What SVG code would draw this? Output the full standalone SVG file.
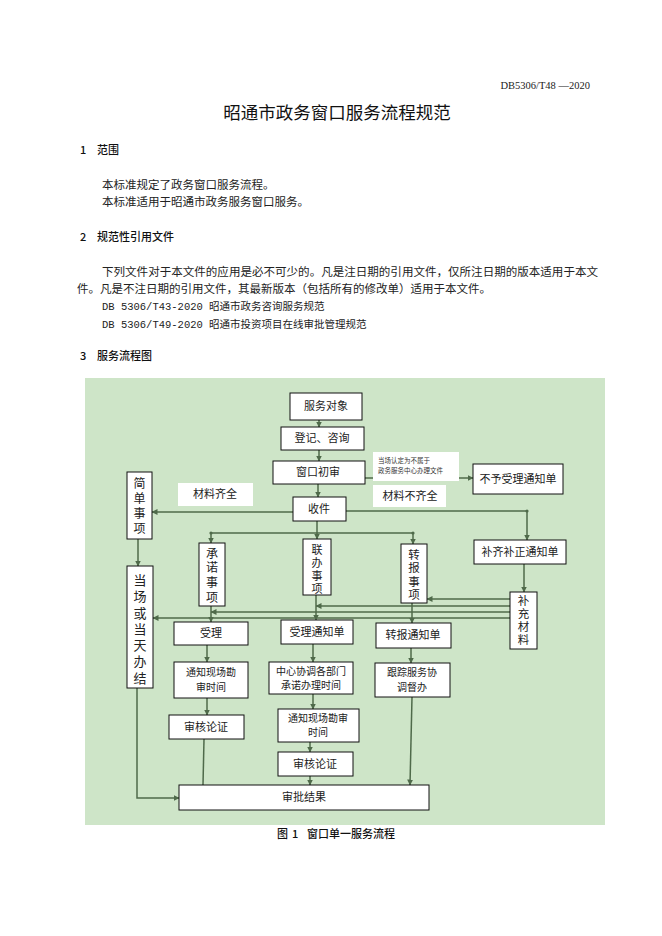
<svg xmlns="http://www.w3.org/2000/svg" width="662" height="936" viewBox="0 0 662 936">
<defs>
<style>
.bg{fill:#cee5c8}
.box{fill:#fff;stroke:#111;stroke-width:1}
.lbl{fill:#fff}
.t{font-family:"Noto Sans CJK SC",sans-serif;font-size:11px;fill:#222;text-anchor:middle}
.t2{font-family:"Noto Sans CJK SC",sans-serif;font-size:10px;fill:#222;text-anchor:middle}
.s{font-family:"Noto Sans CJK SC",sans-serif;font-size:6.5px;fill:#333}
.v{font-family:"Noto Sans CJK SC",sans-serif;fill:#222;writing-mode:vertical-rl;text-orientation:upright}
.c{stroke:#4f6a4a;stroke-width:1.5;fill:none}
.h{font-family:"Noto Sans CJK SC",sans-serif;font-size:11px;font-weight:500;fill:#111}
.b{font-family:"Liberation Serif","Noto Sans CJK SC",serif;font-size:11.5px;fill:#222}
.m{font-family:"Liberation Mono","Noto Sans CJK SC",monospace;font-size:10.5px;fill:#222}
</style>
<marker id="ar" markerUnits="userSpaceOnUse" markerWidth="6" markerHeight="6" refX="5.5" refY="3" orient="auto"><path d="M0,0 L6,3 L0,6 z" fill="#4f6a4a"/></marker>
</defs>
<rect width="662" height="936" fill="#fff"/>
<g id="page-text">
<text x="590" y="89" text-anchor="end" font-family="Liberation Serif" font-size="10.5" fill="#222">DB5306/T48 —2020</text>
<text x="337" y="119" text-anchor="middle" font-family="Noto Sans CJK SC,sans-serif" font-size="17.5" fill="#111">昭通市政务窗口服务流程规范</text>
<text class="h" x="80" y="154">1</text><text class="h" x="97" y="154">范围</text>
<text class="b" x="102" y="189">本标准规定了政务窗口服务流程。</text>
<text class="b" x="102" y="206">本标准适用于昭通市政务服务窗口服务。</text>
<text class="h" x="80" y="241">2</text><text class="h" x="97" y="241">规范性引用文件</text>
<text class="b" x="102" y="276" textLength="496" lengthAdjust="spacingAndGlyphs">下列文件对于本文件的应用是必不可少的。凡是注日期的引用文件，仅所注日期的版本适用于本文</text>
<text class="b" x="77" y="293">件。凡是不注日期的引用文件，其最新版本（包括所有的修改单）适用于本文件。</text>
<text class="m" x="102" y="310">DB 5306/T43-2020 昭通市政务咨询服务规范</text>
<text class="m" x="102" y="328">DB 5306/T49-2020 昭通市投资项目在线审批管理规范</text>
<text class="h" x="80" y="360">3</text><text class="h" x="97" y="360">服务流程图</text>
<text class="h" x="277" y="838">图</text><text class="h" x="292" y="838">1</text><text class="h" x="307" y="838">窗口单一服务流程</text>
</g>
<rect class="bg" x="85" y="378" width="520" height="447"/>
<g id="connectors">
<path class="c" d="M319,420 V427" marker-end="url(#ar)"/>
<path class="c" d="M319,450 V461" marker-end="url(#ar)"/>
<path class="c" d="M318,484 V497" marker-end="url(#ar)"/>
<path class="c" d="M365,478 H473" marker-end="url(#ar)"/>
<path class="c" d="M293,512 H152" marker-end="url(#ar)"/>
<path class="c" d="M346,511 H527 V540" marker-end="url(#ar)"/>
<path class="c" d="M524,564 V592" marker-end="url(#ar)"/>
<path class="c" d="M317,521 V533 M211,533 H413"/>
<path class="c" d="M211,533 V543" marker-end="url(#ar)"/>
<path class="c" d="M413,533 V544" marker-end="url(#ar)"/>
<path class="c" d="M317,533 V539" marker-end="url(#ar)"/>
<circle cx="211" cy="533" r="1.6" fill="#4f6a4a"/>
<circle cx="413" cy="533" r="1.6" fill="#4f6a4a"/>
<circle cx="527" cy="511" r="1.6" fill="#4f6a4a"/>
<path class="c" d="M138,539 V566" marker-end="url(#ar)"/>
<path class="c" d="M510,599 H427" marker-end="url(#ar)"/>
<path class="c" d="M510,606 H316" marker-end="url(#ar)"/>
<path class="c" d="M510,612 H211" marker-end="url(#ar)"/>
<path class="c" d="M510,618 H153" marker-end="url(#ar)"/>
<path class="c" d="M211,606 V622" marker-end="url(#ar)"/>
<path class="c" d="M316,595 V620" marker-end="url(#ar)"/>
<path class="c" d="M412,603 V623" marker-end="url(#ar)"/>
<path class="c" d="M207,645 V662" marker-end="url(#ar)"/>
<path class="c" d="M207,698 V715" marker-end="url(#ar)"/>
<path class="c" d="M204,739 L203,785"/>
<path class="c" d="M313,644 V662" marker-end="url(#ar)"/>
<path class="c" d="M313,694 V709" marker-end="url(#ar)"/>
<path class="c" d="M310,742 V752" marker-end="url(#ar)"/>
<path class="c" d="M310,776 V785" marker-end="url(#ar)"/>
<path class="c" d="M411,648 V663" marker-end="url(#ar)"/>
<path class="c" d="M412,697 L410,785" marker-end="url(#ar)"/>
<path class="c" d="M137,688 V798 H179" marker-end="url(#ar)"/>
</g>
<g id="labels">
<g id="lbl-notbelong"><rect class="lbl" x="373" y="452" width="86" height="29"/><text class="s" x="378" y="463">当场认定为不属于</text><text class="s" x="378" y="473">政务服务中心办理文件</text></g>
<g id="lbl-complete"><rect class="lbl" x="178" y="483" width="75" height="23"/><text class="t" x="215" y="498">材料齐全</text></g>
<g id="lbl-incomplete"><rect class="lbl" x="373" y="485" width="73" height="22"/><text class="t" x="410" y="500">材料不齐全</text></g>
</g>
<g id="n-fuwuduixiang"><rect class="box" x="290" y="393" width="72" height="27"/><text class="t" x="326" y="410">服务对象</text></g>
<g id="n-dengji"><rect class="box" x="281" y="427" width="83" height="23"/><text class="t" x="322" y="442">登记、咨询</text></g>
<g id="n-chushen"><rect class="box" x="273" y="461" width="92" height="23"/><text class="t" x="318" y="476">窗口初审</text></g>
<g id="n-buyu"><rect class="box" x="473" y="464" width="90" height="30"/><text class="t" x="518" y="483">不予受理通知单</text></g>
<g id="n-shoujian"><rect class="box" x="293" y="497" width="53" height="24"/><text class="t" x="319" y="513">收件</text></g>
<g id="n-jiandan"><rect class="box" x="127" y="472" width="25" height="67"/><text class="v" x="139.5" y="477" font-size="12" letter-spacing="3">简单事项</text></g>
<g id="n-buqi"><rect class="box" x="474" y="540" width="92" height="24"/><text class="t" x="520" y="556">补齐补正通知单</text></g>
<g id="n-chengnuo"><rect class="box" x="199" y="543" width="26" height="63"/><text class="v" x="212" y="547" font-size="12" letter-spacing="2.7">承诺事项</text></g>
<g id="n-lianban"><rect class="box" x="303" y="539" width="28" height="56"/><text class="v" x="317" y="544" font-size="11" letter-spacing="2">联办事项</text></g>
<g id="n-zhuanbao"><rect class="box" x="401" y="544" width="26" height="59"/><text class="v" x="414" y="549" font-size="11.5" letter-spacing="1.8">转报事项</text></g>
<g id="n-buchong"><rect class="box" x="510" y="592" width="27" height="57"/><text class="v" x="523.5" y="594.5" font-size="11.5" letter-spacing="1.5">补充材料</text></g>
<g id="n-dangchang"><rect class="box" x="127" y="566" width="26" height="122"/><text class="v" x="140" y="573.5" font-size="13" letter-spacing="3.3">当场或当天办结</text></g>
<g id="n-shouli"><rect class="box" x="174" y="622" width="74" height="23"/><text class="t" x="211" y="637">受理</text></g>
<g id="n-shoulitz"><rect class="box" x="281" y="620" width="72" height="24"/><text class="t" x="317" y="636">受理通知单</text></g>
<g id="n-zhuanbaotz"><rect class="box" x="376" y="623" width="75" height="25"/><text class="t" x="413" y="639">转报通知单</text></g>
<g id="n-tongzhi1"><rect class="box" x="174" y="662" width="74" height="36"/><text class="t2"><tspan x="211" y="676">通知现场勘</tspan><tspan x="211" y="690.5">审时间</tspan></text></g>
<g id="n-zhongxin"><rect class="box" x="269" y="662" width="84" height="32"/><text class="t2"><tspan x="311" y="674.5">中心协调各部门</tspan><tspan x="311" y="689">承诺办理时间</tspan></text></g>
<g id="n-genzong"><rect class="box" x="375" y="663" width="75" height="34"/><text class="t2"><tspan x="412" y="676">跟踪服务协</tspan><tspan x="412" y="690.5">调督办</tspan></text></g>
<g id="n-tongzhi2"><rect class="box" x="278" y="709" width="81" height="33"/><text class="t2"><tspan x="318" y="721.5">通知现场勘审</tspan><tspan x="318" y="736">时间</tspan></text></g>
<g id="n-shenhe1"><rect class="box" x="169" y="715" width="75" height="24"/><text class="t" x="206" y="731">审核论证</text></g>
<g id="n-shenhe2"><rect class="box" x="278" y="752" width="75" height="24"/><text class="t" x="315" y="768">审核论证</text></g>
<g id="n-shenpi"><rect class="box" x="179" y="785" width="250" height="25"/><text class="t" x="304" y="801">审批结果</text></g>
</svg>
